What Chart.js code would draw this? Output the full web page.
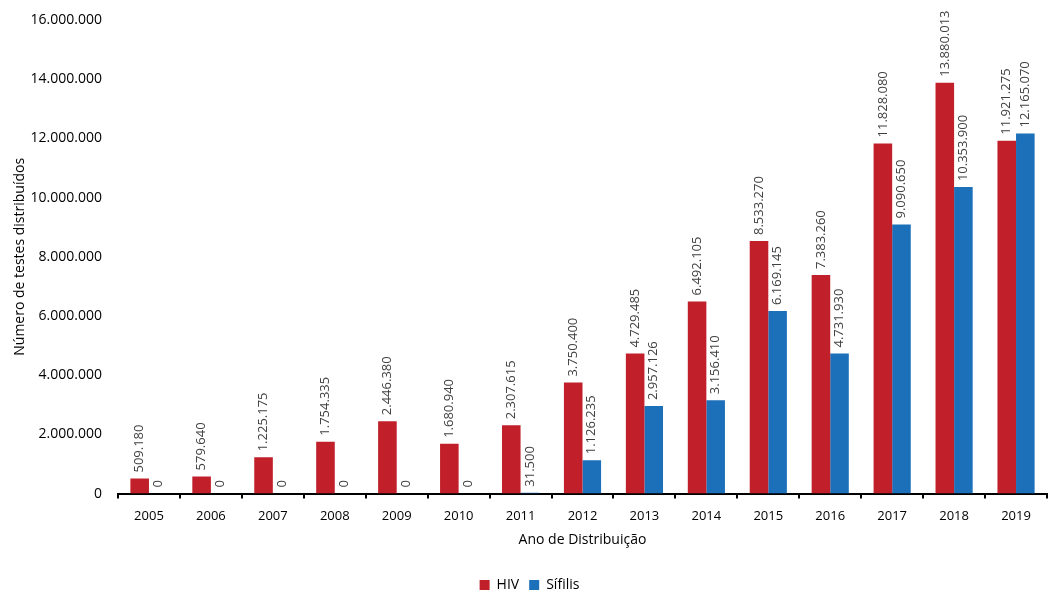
<!DOCTYPE html>
<html lang="pt-BR">
<head>
<meta charset="utf-8">
<title>Testes rápidos distribuídos - HIV e Sífilis</title>
<script src="https://cdn.jsdelivr.net/npm/chart.js@4/dist/chart.umd.min.js"></script>
<style>
  html, body { margin: 0; padding: 0; background: #fff; }
  #wrap { width: 1050px; height: 594px; position: relative; }
</style>
</head>
<body>
<div id="wrap"><canvas id="testes"></canvas></div>
<script>
// Testes distribuídos por ano
const anos = ['2005', '2006', '2007', '2008', '2009', '2010', '2011', '2012', '2013', '2014', '2015', '2016', '2017', '2018', '2019'];
const hiv = [509180, 579640, 1225175, 1754335, 2446380, 1680940, 2307615, 3750400, 4729485, 6492105, 8533270, 7383260, 11828080, 13880013, 11921275];
const sifilis = [0, 0, 0, 0, 0, 0, 31500, 1126235, 2957126, 3156410, 6169145, 4731930, 9090650, 10353900, 12165070];
const yTicks = [0, 2000000, 4000000, 6000000, 8000000, 10000000, 12000000, 14000000, 16000000];

const FONT = 'Open Sans, Liberation Sans, sans-serif';

// separador de milhar com ponto
function formatNum(v) {
  return String(Math.round(v)).replace(/\B(?=(\d{3})+(?!\d))/g, '.');
}

// rótulos verticais acima de cada barra
const rotuloBarras = {
  id: 'rotuloBarras',
  afterDatasetsDraw(chart) {
    const ctx = chart.ctx;
    ctx.save();
    ctx.font = '13px ' + FONT;
    ctx.fillStyle = '#404040';
    ctx.textAlign = 'left';
    ctx.textBaseline = 'middle';
    chart.data.datasets.forEach((ds, i) => {
      chart.getDatasetMeta(i).data.forEach((bar, j) => {
        ctx.save();
        ctx.translate(bar.x, bar.y - 6);
        ctx.rotate(-Math.PI / 2);
        ctx.fillText(formatNum(ds.data[j]), 0, 0);
        ctx.restore();
      });
    });
    ctx.restore();
  }
};

new Chart(document.getElementById('testes'), {
  type: 'bar',
  data: {
    labels: anos,
    datasets: [
      { label: 'HIV', data: hiv, backgroundColor: '#C1202A', categoryPercentage: 0.6, barPercentage: 1.0 },
      { label: 'Sífilis', data: sifilis, backgroundColor: '#1B70B9', categoryPercentage: 0.6, barPercentage: 1.0 }
    ]
  },
  options: {
    responsive: true,
    maintainAspectRatio: false,
    animation: false,
    layout: { padding: { top: 20, right: 3, left: 12, bottom: -8 } },
    plugins: {
      legend: {
        position: 'bottom',
        labels: {
          boxWidth: 10,
          boxHeight: 10,
          padding: 10,
          color: '#000',
          font: { family: FONT, size: 14 }
        }
      },
      tooltip: { enabled: false }
    },
    scales: {
      x: {
        grid: { display: true, drawOnChartArea: false, drawTicks: true, tickLength: 5, color: '#000', lineWidth: 2 },
        border: { display: true, color: '#000', width: 2 },
        ticks: { color: '#000', font: { family: FONT, size: 13 }, padding: 10 },
        title: { display: true, text: 'Ano de Distribuição', color: '#000', font: { family: FONT, size: 14 }, padding: { top: -3, bottom: 20 } }
      },
      y: {
        min: 0,
        max: 16000000,
        afterBuildTicks(axis) { axis.ticks = yTicks.map(v => ({ value: v })); },
        afterFit(axis) { axis.width = 106; },
        grid: { display: false },
        border: { display: false },
        ticks: { color: '#000', font: { family: FONT, size: 14 }, padding: 8, callback: v => formatNum(v) },
        title: { display: true, text: 'Número de testes distribuídos', color: '#000', font: { family: FONT, size: 14 }, padding: 0 }
      }
    }
  },
  plugins: [rotuloBarras]
});
</script>
</body>
</html>
